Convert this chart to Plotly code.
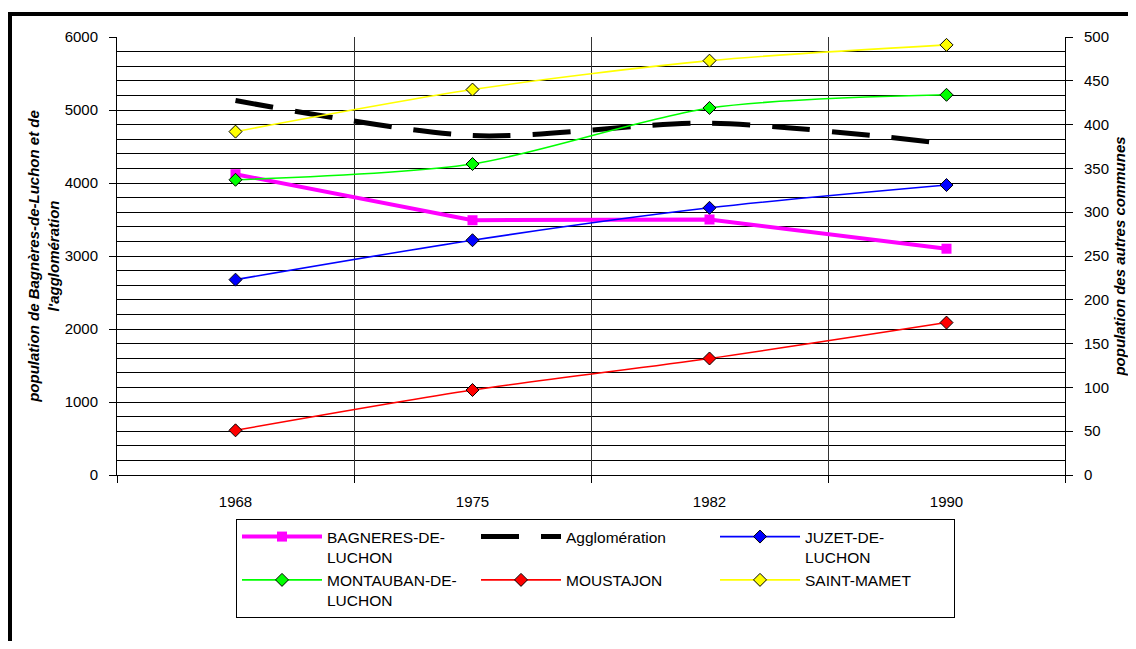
import plotly.graph_objects as go

# ---- data ----
years = ["1968", "1975", "1982", "1990"]
bagneres = [4120, 3490, 3500, 3100]          # left axis
agglomeration = [5130, 4650, 4820, 4540]     # left axis
juzet = [223, 268, 305, 331]                 # right axis
montauban = [337, 355, 419, 434]             # right axis
moustajon = [51, 97, 133, 174]               # right axis
saint_mamet = [392, 440, 473, 491]           # right axis

left_title = "population de Bagnères-de-Luchon et de<br>l'agglomération"
right_title = "population des autres communes"

FONT = "Liberation Sans, Arial, sans-serif"
OFF = 8  # default page body margin
W, H = 1120, 633
# plot area in page pixels: x 117..1065, y 37..475
L, T = 117 - OFF, 37 - OFF
PR, PB = 1065 - OFF, 475 - OFF
R, B = W - PR, H - PB
PW, PH = PR - L, PB - T


def px_x(p):
    return (p - OFF - L) / PW


def px_y(p):
    return (PB - (p - OFF)) / PH


fig = go.Figure()

fig.add_trace(go.Scatter(
    x=years, y=bagneres, name="BAGNERES-DE-<br>LUCHON", yaxis="y",
    mode="lines+markers",
    line=dict(color="#FF00FF", width=4),
    marker=dict(symbol="square", size=10, color="#FF00FF"),
))
fig.add_trace(go.Scatter(
    x=years, y=agglomeration, name="Agglomération", yaxis="y",
    mode="lines",
    line=dict(color="black", width=5, dash="38px,22px", shape="spline", smoothing=0.8),
))
fig.add_trace(go.Scatter(
    x=years, y=juzet, name="JUZET-DE-<br>LUCHON", yaxis="y2",
    mode="lines+markers",
    line=dict(color="#0000FF", width=1.6, shape="spline", smoothing=0.8),
    marker=dict(symbol="diamond", size=10, color="#0000FF", line=dict(color="black", width=1)),
))
fig.add_trace(go.Scatter(
    x=years, y=montauban, name="MONTAUBAN-DE-<br>LUCHON", yaxis="y2",
    mode="lines+markers",
    line=dict(color="#00FF00", width=1.6, shape="spline", smoothing=0.8),
    marker=dict(symbol="diamond", size=10, color="#00FF00", line=dict(color="black", width=1)),
))
fig.add_trace(go.Scatter(
    x=years, y=moustajon, name="MOUSTAJON", yaxis="y2",
    mode="lines+markers",
    line=dict(color="#FF0000", width=1.6, shape="spline", smoothing=0.8),
    marker=dict(symbol="diamond", size=10, color="#FF0000", line=dict(color="black", width=1)),
))
fig.add_trace(go.Scatter(
    x=years, y=saint_mamet, name="SAINT-MAMET", yaxis="y2",
    mode="lines+markers",
    line=dict(color="#FFFF00", width=1.6, shape="spline", smoothing=0.8),
    marker=dict(symbol="diamond", size=10, color="#FFFF00", line=dict(color="black", width=1)),
))

fig.update_layout(
    width=W, height=H,
    margin=dict(l=L, r=R, t=T, b=B, autoexpand=False),
    paper_bgcolor="white", plot_bgcolor="white",
    font=dict(family=FONT, size=15, color="black"),
    xaxis=dict(
        type="category", range=[-0.5, 3.5],
        tickson="boundaries", ticks="outside", ticklen=7, tickcolor="black", tickwidth=1,
        showgrid=True, gridcolor="#333333", gridwidth=1,
        showline=True, linecolor="black", linewidth=1,
        ticklabelstandoff=13,
        tickfont=dict(family=FONT, size=15, color="black"),
        zeroline=False,
    ),
    yaxis=dict(
        range=[0, 6000], dtick=1000, tick0=0,
        ticks="outside", ticklen=7, tickcolor="black",
        showgrid=True, gridcolor="black", gridwidth=1,
        minor=dict(dtick=200, showgrid=True, gridcolor="black", gridwidth=1),
        showline=True, linecolor="black", linewidth=1,
        zeroline=False,
        ticklabelstandoff=8,
        tickfont=dict(family=FONT, size=15, color="black"),
        title=dict(text=left_title, standoff=1,
                   font=dict(family=FONT, size=15, color="black", weight="bold", style="italic")),
        automargin=False,
    ),
    yaxis2=dict(
        range=[0, 500], dtick=50, tick0=0, overlaying="y", side="right",
        ticks="outside", ticklen=7, tickcolor="black",
        showgrid=False, zeroline=False,
        showline=True, linecolor="black", linewidth=1,
        ticklabelstandoff=8,
        tickfont=dict(family=FONT, size=15, color="black"),
        title=dict(text=right_title, standoff=12,
                   font=dict(family=FONT, size=15, color="black", weight="bold", style="italic")),
        automargin=False,
    ),
    legend=dict(
        orientation="h",
        x=px_x(236), y=px_y(519), xanchor="left", yanchor="top",
        bordercolor="black", borderwidth=1, bgcolor="white",
        entrywidth=144, entrywidthmode="pixels",
        itemwidth=80,
        valign="top",
        font=dict(family=FONT, size=15.5, color="black"),
        traceorder="normal",
    ),
    shapes=[dict(
        type="rect", xref="paper", yref="paper",
        x0=px_x(10), x1=px_x(1160), y0=px_y(14), y1=px_y(680),
        line=dict(color="black", width=4), fillcolor="rgba(0,0,0,0)", layer="above",
    )],
    showlegend=True,
)

fig.write_html("out.html")
